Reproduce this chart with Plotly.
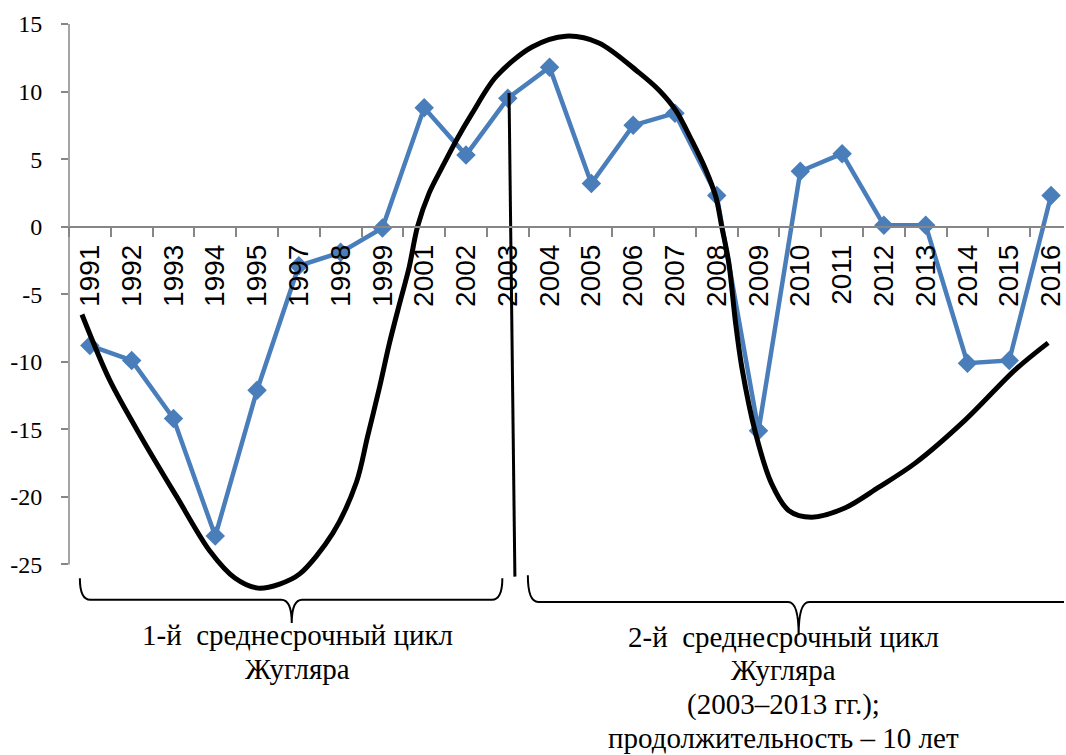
import plotly.graph_objects as go

# ---- data ----
years = ["1991", "1992", "1993", "1994", "1995", "1997", "1998", "1999", "2001", "2002",
         "2003", "2004", "2005", "2006", "2007", "2008", "2009", "2010", "2011", "2012",
         "2013", "2014", "2015", "2016"]
growth = [-8.8, -9.9, -14.2, -22.9, -12.1, -2.9, -1.9, -0.1, 8.8, 5.3,
          9.5, 11.8, 3.2, 7.5, 8.4, 2.3, -15.1, 4.1, 5.4, 0.1,
          0.1, -10.1, -9.9, 2.3]

# hand-drawn cycle curve (x in category-index units, y in chart units)
cycle_x = [-0.19, 0.48, 1.27, 2.08, 2.87, 3.47, 4.02, 4.54, 5.02, 5.81, 6.38, 6.64, 6.93,
           7.17, 7.41, 7.64, 7.84, 8.12, 8.43, 8.77, 9.15, 9.72, 10.58, 11.39, 12.18,
           13.14, 13.62, 14.02, 14.40, 14.74, 14.98, 15.12, 15.29, 15.45, 15.60, 15.93,
           16.31, 16.72, 17.27, 18.08, 18.87, 19.75, 20.95, 22.14, 22.93]
cycle_y = [-6.5, -11.4, -15.8, -20.0, -24.0, -26.0, -26.75, -26.45, -25.7, -22.7, -18.9,
           -15.6, -11.9, -8.6, -5.7, -3.0, 0.0, 2.5, 4.4, 6.4, 8.4, 11.1, 13.3, 14.1, 13.6,
           11.4, 10.1, 8.6, 6.4, 4.2, 2.2, 0.0, -2.7, -7.1, -10.4, -15.3,
           -19.0, -21.0, -21.5, -20.8, -19.3, -17.5, -14.3, -10.6, -8.6]

# divider between cycles
divider_x = [10.03, 10.17]
divider_y = [9.9, -25.9]

# braces (x in category-index units)
brace1 = dict(x0=-0.24, tip=4.83, x1=9.87)
brace2 = dict(x0=10.48, tip=16.96, x1=23.6)

label1_lines = ["1-й\u00a0 среднесрочный цикл", "Жугляра"]
label2_lines = ["2-й\u00a0 среднесрочный цикл", "Жугляра", "(2003–2013 гг.);",
                "продолжительность – 10 лет"]

BLUE = "#4A7EBB"
AXIS = "#868686"
SERIF = "Liberation Serif, Times New Roman, serif"
SANS = "Liberation Sans, Arial, sans-serif"
Y_MIN, Y_MAX = -28, 15
X_RANGE = [-0.5, 23.31]

fig = go.Figure()

fig.add_trace(go.Scatter(
    x=years, y=growth, mode="lines+markers",
    line=dict(color=BLUE, width=4.5),
    marker=dict(symbol="diamond", size=15, color=BLUE),
    xaxis="x", yaxis="y", showlegend=False, hoverinfo="x+y"))

fig.add_trace(go.Scatter(
    x=cycle_x, y=cycle_y, mode="lines",
    line=dict(color="black", width=5, shape="spline", smoothing=0.9),
    xaxis="x2", yaxis="y", showlegend=False, hoverinfo="skip"))

fig.add_trace(go.Scatter(
    x=divider_x, y=divider_y, mode="lines",
    line=dict(color="black", width=3),
    xaxis="x2", yaxis="y", showlegend=False, hoverinfo="skip"))


def brace_path(b, ytop, yh, ybot, d=0.25):
    x0, t, x1 = b["x0"], b["tip"], b["x1"]
    return (f"M {x0},{ytop} Q {x0},{yh} {x0+d},{yh} L {t-d},{yh} "
            f"Q {t},{yh} {t},{ybot} Q {t},{yh} {t+d},{yh} "
            f"L {x1-d},{yh} Q {x1},{yh} {x1},{ytop}")


shapes = [
    dict(type="line", xref="paper", yref="y", x0=0, x1=0, y0=-25, y1=15,
         line=dict(color=AXIS, width=1.5), layer="below"),
    dict(type="path", xref="x2", yref="paper",
         path=brace_path(brace1, 0.046, 0.009, -0.031),
         line=dict(color="black", width=2)),
    dict(type="path", xref="x2", yref="paper",
         path=brace_path(brace2, 0.051, 0.005, -0.052),
         line=dict(color="black", width=2)),
]

annotations = []
for txt, yy in zip(label1_lines, [-0.052, -0.110]):
    annotations.append(dict(x=4.97, y=yy, xref="x2", yref="paper", text=txt,
                            showarrow=False, xanchor="center", yanchor="middle",
                            font=dict(family=SERIF, size=29, color="black")))
for txt, yy in zip(label2_lines, [-0.055, -0.112, -0.171, -0.229]):
    annotations.append(dict(x=16.6, y=yy, xref="x2", yref="paper", text=txt,
                            showarrow=False, xanchor="center", yanchor="middle",
                            font=dict(family=SERIF, size=29, color="black")))

fig.update_layout(
    width=1066, height=755,
    margin=dict(l=69, r=0, t=24, b=150),
    paper_bgcolor="white", plot_bgcolor="white",
    showlegend=False,
    xaxis=dict(type="category", range=X_RANGE, anchor="free",
               position=(0 - Y_MIN) / (Y_MAX - Y_MIN),
               showline=True, linecolor=AXIS, linewidth=1.5,
               ticks="outside", tickson="boundaries", ticklen=10, tickcolor=AXIS,
               tickwidth=1.5, tickangle=-90, ticklabelstandoff=6,
               tickfont=dict(family=SANS, size=28, color="black"),
               showgrid=False, zeroline=False),
    xaxis2=dict(type="linear", range=X_RANGE, overlaying="x", anchor="y",
                visible=False, showgrid=False, zeroline=False),
    yaxis=dict(range=[Y_MIN, Y_MAX], tickvals=[-25, -20, -15, -10, -5, 0, 5, 10, 15],
               ticktext=["-25", "-20", "-15", "-10", "-5", "0", "5", "10", "15"],
               showline=False, ticks="outside", ticklen=7, tickcolor=AXIS, tickwidth=1.5,
               ticklabelstandoff=14,
               tickfont=dict(family=SERIF, size=24, color="black"),
               showgrid=False, zeroline=False),
    shapes=shapes, annotations=annotations,
)

fig.write_html("out.html",
               config={"displayModeBar": False},
               post_script="document.body.style.margin='0';"
                           "document.body.style.overflow='hidden';")
